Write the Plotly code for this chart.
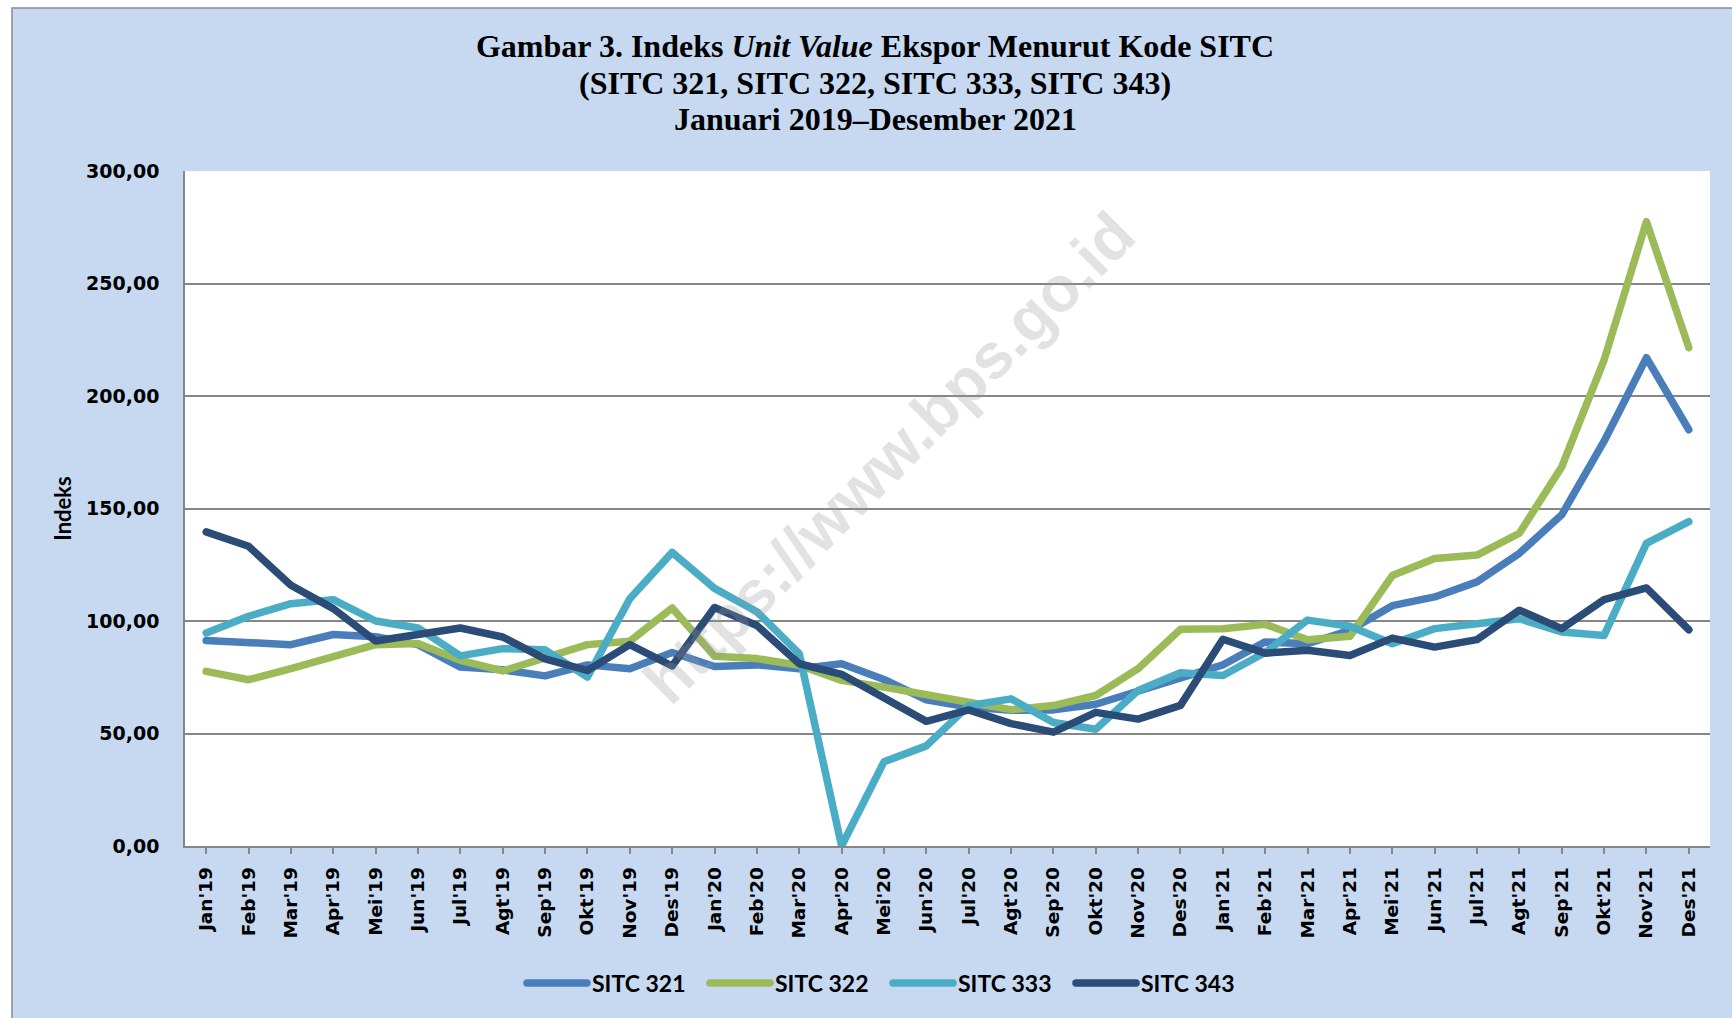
import plotly.graph_objects as go

months = ["Jan'19", "Feb'19", "Mar'19", "Apr'19", "Mei'19", "Jun'19", "Jul'19", "Agt'19", "Sep'19", "Okt'19", "Nov'19", "Des'19",
          "Jan'20", "Feb'20", "Mar'20", "Apr'20", "Mei'20", "Jun'20", "Jul'20", "Agt'20", "Sep'20", "Okt'20", "Nov'20", "Des'20",
          "Jan'21", "Feb'21", "Mar'21", "Apr'21", "Mei'21", "Jun'21", "Jul'21", "Agt'21", "Sep'21", "Okt'21", "Nov'21", "Des'21"]

sitc_321 = [91.3, 90.6, 89.5, 94.0, 93.0, 89.5, 79.5, 78.3, 75.6, 80.5, 78.8, 86.0,
            79.8, 80.5, 78.8, 81.0, 74.0, 65.0, 61.8, 60.3, 60.5, 63.0, 69.0, 75.3,
            80.5, 90.7, 89.9, 95.9, 106.8, 110.7, 117.4, 130.1, 147.2, 179.9, 217.0, 185.0]

sitc_322 = [77.6, 73.9, 78.8, 84.0, 89.5, 90.0, 82.5, 77.8, 84.0, 89.5, 91.0, 105.8,
            84.3, 83.3, 80.3, 73.6, 70.6, 67.6, 63.9, 60.6, 62.4, 66.9, 78.8, 96.3,
            96.6, 98.5, 91.7, 93.2, 120.2, 127.8, 129.3, 139.0, 168.5, 216.0, 277.5, 221.5]

sitc_333 = [94.7, 102.1, 107.7, 109.5, 100.0, 96.9, 84.5, 87.7, 87.2, 75.1, 109.9, 130.5,
            114.5, 104.1, 85.5, 0.0, 37.4, 44.5, 62.4, 65.4, 54.9, 51.9, 69.1, 77.0,
            75.8, 86.0, 100.4, 97.7, 89.9, 96.6, 98.8, 101.0, 95.1, 93.6, 134.5, 144.2]

sitc_343 = [139.6, 133.2, 115.9, 105.5, 91.1, 93.6, 96.9, 92.9, 83.2, 78.0, 89.5, 80.0,
            106.0, 98.0, 81.0, 76.3, 66.1, 55.4, 60.5, 54.4, 50.6, 59.4, 56.4, 62.5,
            91.9, 85.7, 87.0, 84.7, 92.4, 88.4, 91.7, 104.8, 96.6, 109.5, 114.7, 96.1]

series_names = ["SITC 321", "SITC 322", "SITC 333", "SITC 343"]
series_values = [sitc_321, sitc_322, sitc_333, sitc_343]
series_colors = ["#4a7ebb", "#9bbb59", "#4bacc6", "#2b4c76"]

y_ticks = [0, 50, 100, 150, 200, 250, 300]

title_lines = ["<b>Gambar 3. Indeks <i>Unit Value</i> Ekspor Menurut Kode SITC</b>",
               "<b>(SITC 321, SITC 322, SITC 333, SITC 343)</b>",
               "<b>Januari 2019–Desember 2021</b>"]

W, H = 1732, 1018
ML, MR, MT, MB = 185, 22, 171, 172
PW, PH = W - ML - MR, H - MT - MB


def px_x(px):
    return (px - ML) / PW


def px_y(py):
    return (H - MB - py) / PH


fig = go.Figure()
for name, vals, col in zip(series_names, series_values, series_colors):
    fig.add_trace(go.Scatter(x=months, y=vals, name=name, mode="lines",
                             line=dict(color=col, width=7.5)))

TITLE_X = 875
title_font = dict(family="Liberation Serif", size=32, color="black")

annotations = [
    dict(text=title_lines[1], xref="paper", yref="paper", x=px_x(TITLE_X), y=px_y(83),
         xanchor="center", yanchor="middle", showarrow=False, font=title_font),
    dict(text=title_lines[2], xref="paper", yref="paper", x=px_x(TITLE_X), y=px_y(119),
         xanchor="center", yanchor="middle", showarrow=False, font=title_font),
    dict(text="https://www.bps.go.id", xref="paper", yref="paper",
         x=px_x(889), y=px_y(458), xanchor="center", yanchor="middle",
         textangle=-45, showarrow=False,
         font=dict(family="Liberation Sans", size=64, color="rgba(150,150,150,0.28)", weight="bold")),
]

fig.update_layout(
    width=W, height=H,
    margin=dict(l=ML, r=MR, t=MT, b=MB, pad=0),
    paper_bgcolor="white",
    plot_bgcolor="white",
    separators=",.",
    showlegend=True,
    title=dict(
        text=title_lines[0],
        x=TITLE_X / W, xanchor="center", xref="container",
        y=1 - 46 / H, yanchor="middle", yref="container",
        font=title_font,
    ),
    legend=dict(
        orientation="h",
        x=px_x(522), xanchor="left",
        y=px_y(983), yanchor="middle",
        font=dict(family="Lato", size=23, color="black", weight="bold"),
        bgcolor="rgba(0,0,0,0)",
        itemwidth=60,
        entrywidth=108,
        traceorder="normal",
    ),
    xaxis=dict(
        type="category",
        showgrid=False,
        showline=True, linecolor="#868686", linewidth=1.5,
        ticks="outside", ticklen=6, tickcolor="#868686", tickwidth=1.5,
        tickangle=-90,
        ticklabelstandoff=6,
        tickfont=dict(family="DejaVu Sans", size=18.5, color="black", weight="bold"),
        range=[-0.5, len(months) - 0.5],
        zeroline=False,
    ),
    yaxis=dict(
        range=[0, 300],
        tickvals=y_ticks,
        tickformat=".2f",
        showgrid=True, gridcolor="#868686", gridwidth=1.5,
        showline=True, linecolor="#868686", linewidth=1.5,
        ticks="",
        zeroline=False,
        ticklabelstandoff=20,
        tickfont=dict(family="DejaVu Sans", size=19, color="black", weight="bold"),
        title=dict(text="<b>Indeks</b>", standoff=8,
                   font=dict(family="Lato", size=22, color="black", weight="bold")),
    ),
    shapes=[
        dict(type="rect", xref="paper", yref="paper", layer="below",
             x0=px_x(12), x1=px_x(W + 20), y0=px_y(H + 20), y1=px_y(8),
             fillcolor="#c6d9f1", line=dict(color="#8c8c8c", width=1.5)),
        dict(type="rect", xref="paper", yref="paper", layer="below",
             x0=0, x1=1, y0=0, y1=1, fillcolor="white", line=dict(width=0)),
    ],
    annotations=annotations,
)

post = """
document.body.style.margin='0';
var st=document.createElement('style');
st.innerHTML='.js-line{stroke-linecap:round;stroke-linejoin:round;}';
document.head.appendChild(st);
"""
fig.write_html("out.html", post_script=post, config={"displayModeBar": False})
